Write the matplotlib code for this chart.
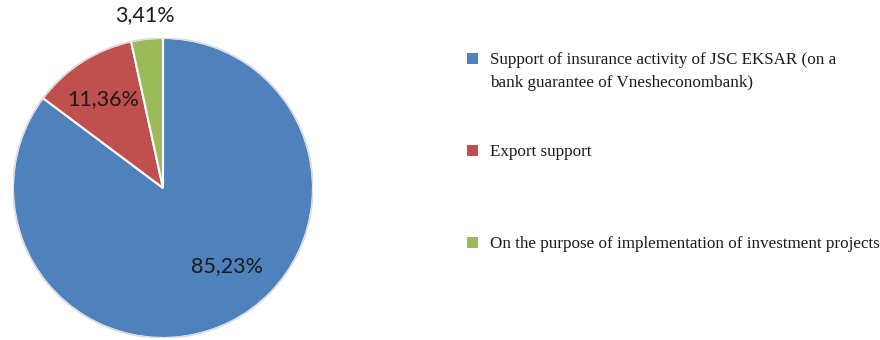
import matplotlib.pyplot as plt
from matplotlib.patches import Rectangle

categories = [
    'Support of insurance activity of JSC EKSAR (on a\nbank guarantee of Vnesheconombank)',
    'Export support',
    'On the purpose of implementation of investment projects',
]
shares = [85.23, 11.36, 3.41]
colors = ['#4F81BD', '#C0504D', '#9BBB59']

W, H = 880, 340
fig = plt.figure(figsize=(W / 100, H / 100), dpi=100)

# pie axes in pixel units: centre (163, 188), radius 150
cx, cy, r = 163, 188, 150
ax = fig.add_axes([(cx - r) / W, (H - cy - r) / H, 2 * r / W, 2 * r / H])
wedges, _ = ax.pie(shares, colors=colors, startangle=90, counterclock=False,
                   radius=1.0,
                   wedgeprops=dict(edgecolor='white', linewidth=1.5))
ax.add_patch(plt.Circle((0, 0), 1.0, fill=False, edgecolor='#d9d9d9', linewidth=1.0))
ax.set_xlim(-1.0, 1.0)
ax.set_ylim(-1.0, 1.0)
ax.set_aspect('equal')
ax.axis('off')

# label placements (pie units), as Excel puts them
label_pos = [(0.43, -0.52), (-0.40, 0.59), (-0.12, 1.155)]
for val, (lx, ly) in zip(shares, label_pos):
    ax.text(lx, ly, f'{val:.2f}%'.replace('.', ','), ha='center', va='center',
            fontsize=15.5, family=['Lato', 'DejaVu Sans'], color='#1a1a1a',
            clip_on=False)

# legend, drawn by hand
marker_y = [58, 150, 242]
for txt, col, y in zip(categories, colors, marker_y):
    fig.patches.append(Rectangle((467 / W, (H - y - 5.5) / H), 11 / W, 11 / H,
                                 transform=fig.transFigure, facecolor=col,
                                 edgecolor='none'))
    if '\n' in txt:
        fig.text(490 / W, (H - 52) / H, txt, ha='left', va='top',
                 fontsize=12.25, family=['Liberation Serif', 'DejaVu Serif'],
                 color='#1a1a1a', linespacing=1.6)
    else:
        fig.text(490 / W, (H - y - 1.5) / H, txt, ha='left', va='center',
                 fontsize=12.25, family=['Liberation Serif', 'DejaVu Serif'],
                 color='#1a1a1a')

fig.savefig('out.png', dpi=100)
